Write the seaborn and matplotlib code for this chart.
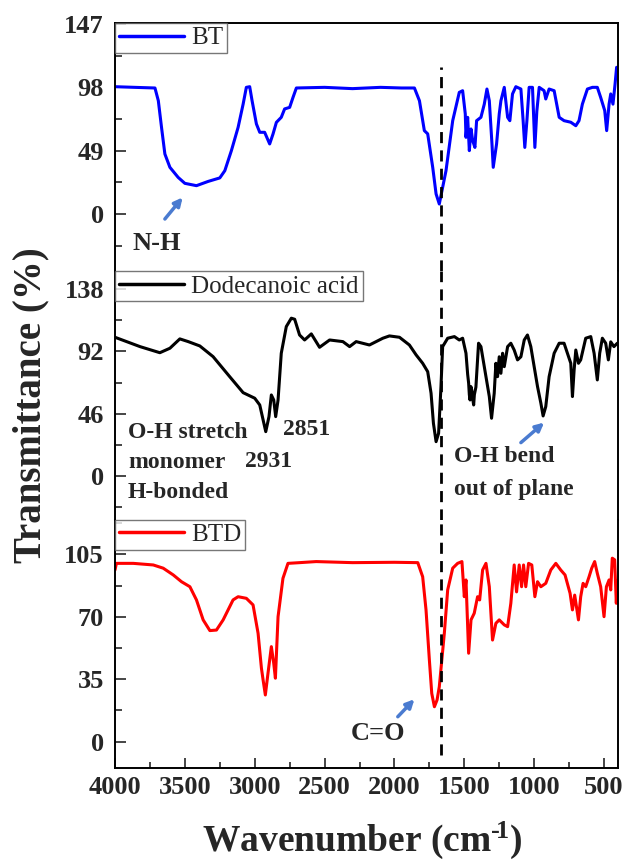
import numpy as np
import pandas as pd
import seaborn as sns
import matplotlib
matplotlib.use("Agg")
import matplotlib.pyplot as plt
from matplotlib.ticker import MultipleLocator

# ---------------- data ----------------
bt_wn = [4000, 3860, 3714, 3690, 3667, 3643, 3607, 3548, 3500, 3417,
         3333, 3250, 3214, 3167, 3119, 3083, 3060, 3036, 3019, 2988,
         2964, 2929, 2893, 2869, 2845, 2810, 2786, 2750, 2726, 2702,
         2500, 2300, 2100, 1950, 1857, 1821, 1786, 1762, 1726, 1702,
         1679, 1631, 1583, 1536, 1512, 1493, 1488, 1476, 1464, 1452,
         1440, 1424, 1412, 1381, 1357, 1338, 1321, 1302, 1293, 1269,
         1250, 1238, 1214, 1190, 1174, 1155, 1131, 1095, 1079, 1067,
         1052, 1036, 1012, 995, 981, 964, 929, 917, 893, 857,
         821, 786, 738, 702, 679, 655, 619, 583, 548, 524,
         495, 481, 464, 452, 436, 421, 410]
bt_t = [98.5, 98, 97.5, 87.7, 67, 46.4, 36.1, 28.3, 23.7, 21.9,
        25.2, 27.9, 33.5, 49, 67, 85, 98, 98.5, 87.7, 69.7,
        63.2, 63.2, 54.2, 61.9, 70.9, 74.8, 81.3, 82.5, 90.2, 97.5,
        98, 97, 98, 97.5, 97.5, 87.6, 64.5, 62, 36, 15.5,
        7.7, 33.5, 72.2, 94.1, 95.4, 77.4, 59.3, 74.8, 49, 65.8,
        56.7, 51.5, 72.2, 74.8, 85, 96.7, 87.6, 54.2, 36.1, 54.2,
        77.4, 87.6, 98, 74.8, 72.2, 92.9, 98.5, 96.7, 72.2, 51.5,
        72.2, 98, 98, 51.5, 79.5, 98, 95.4, 89, 96.7, 95.4,
        74.8, 72.2, 71, 68.3, 72.2, 85, 96.7, 98, 98, 90.2,
        80, 64.5, 85, 92.9, 85, 100.6, 113.5]

da_wn = [4000, 3821, 3679, 3607, 3536, 3476, 3393, 3298, 3179, 3083,
         3000, 2964, 2940, 2921, 2898, 2881, 2864, 2850, 2833, 2810,
         2774, 2738, 2714, 2679, 2643, 2595, 2536, 2464, 2369, 2321,
         2274, 2179, 2083, 2036, 1964, 1893, 1845, 1798, 1762, 1738,
         1721, 1702, 1684, 1667, 1655, 1619, 1571, 1536, 1512, 1488,
         1476, 1469, 1464, 1459, 1453, 1447, 1440, 1433, 1428, 1417,
         1398, 1381, 1345, 1321, 1305, 1286, 1274, 1262, 1250, 1238,
         1226, 1214, 1190, 1167, 1143, 1119, 1095, 1071, 1048, 1024,
         1000, 976, 952, 936, 917, 893, 857, 821, 786, 762,
         738, 726, 714, 702, 683, 667, 631, 595, 571, 548,
         531, 512, 488, 469, 452, 429, 405]
da_t = [102.4, 95.5, 91, 94.3, 101.2, 99.2, 96, 88.1, 73.3, 61.5,
        57.4, 52.4, 41.4, 32.7, 43.8, 59.8, 56.1, 43.8, 56.1, 90.6,
        110.3, 116.5, 115.7, 104.1, 100.4, 104.9, 95, 100.4, 99.2, 95.5,
        99.2, 96.7, 101.7, 103.4, 102.4, 96.7, 89.4, 83.2, 77, 61.1,
        38.9, 25.3, 31.5, 66, 95.5, 101.7, 102.9, 100.4, 101.7, 90.6,
        75, 68.5, 60, 56.1, 66, 63.5, 57, 52.4, 60, 65.6,
        98, 95.5, 73.3, 58.6, 42.6, 61, 83.2, 73.3, 88, 75.8,
        90.6, 80.7, 95.5, 98, 93, 85.7, 88, 100.4, 104.1, 95.5,
        80.7, 66, 53.7, 44.3, 51.2, 73.3, 90.6, 98, 98, 90.6,
        83.2, 58.6, 78.3, 93, 83.2, 85.7, 101.7, 102.9, 90.6, 70.9,
        90.6, 101.7, 98, 85.7, 99, 95.5, 98]

btd_wn = [4000, 3990, 3869, 3726, 3655, 3583, 3524, 3464, 3417, 3369,
          3321, 3274, 3226, 3155, 3119, 3060, 3012, 2976, 2952, 2940,
          2924, 2905, 2881, 2864, 2852, 2833, 2798, 2762, 2679, 2560,
          2300, 2000, 1833, 1798, 1774, 1750, 1733, 1714, 1695, 1679,
          1643, 1619, 1583, 1548, 1517, 1500, 1488, 1469, 1452, 1429,
          1405, 1390, 1369, 1345, 1321, 1298, 1274, 1250, 1214, 1190,
          1167, 1143, 1126, 1107, 1090, 1076, 1060, 1040, 1017, 995,
          976, 952, 917, 881, 845, 810, 779, 743, 726, 710,
          683, 667, 650, 631, 607, 588, 567, 548, 524, 500,
          483, 464, 452, 441, 424, 412, 405]
btd_t = [96.3, 100, 100, 99.1, 97.3, 93.5, 89.7, 86.9, 79.5, 68.3,
         62.3, 62.6, 68.3, 79.5, 81.3, 80.4, 76.7, 60.8, 41.2, 34.6,
         26.2, 38.4, 53.3, 44, 35.6, 70.1, 91.6, 100, 100.4, 101,
         100.4, 100.6, 100.4, 92.5, 73.9, 45.8, 27.1, 19.6, 23.4, 30.8,
         60.8, 85.1, 97.3, 100, 101, 81.3, 90.7, 49.6, 68.3, 72,
         81.3, 79.5, 96.3, 100, 86.9, 57, 66.4, 68.3, 65.5, 64.5,
         77.6, 99.1, 84, 99.1, 86.9, 99.1, 86.9, 100, 99.1, 81.3,
         89.7, 86.9, 88.8, 96.3, 100, 96.3, 93.5, 83.2, 73.9, 82.2,
         68.3, 81.3, 88.8, 86.9, 92.5, 97.3, 101, 94.4, 86.9, 70.1,
         86.9, 90.7, 85.1, 102.9, 102, 77.6, 90]

series_names = ["BT", "Dodecanoic acid", "BTD"]
series_colors = ["#0000FF", "#000000", "#FF0000"]
yticks_list = [[0, 49, 98, 147], [0, 46, 92, 138], [0, 35, 70, 105]]
ylims = [(-44.4, 147.8), (-32.3, 151.1), (-14.75, 124.5)]
xticks = [4000, 3500, 3000, 2500, 2000, 1500, 1000, 500]
dashed_wn = 1668

# ---------------- style ----------------
sns.set_style("white")
plt.rcParams["font.family"] = ["Liberation Serif", "DejaVu Serif"]
plt.rcParams["mathtext.fontset"] = "custom"
plt.rcParams["mathtext.rm"] = "Liberation Serif:bold"
plt.rcParams["mathtext.default"] = "rm"

fig = plt.figure(figsize=(6.3, 8.68), dpi=100)
gs = fig.add_gridspec(3, 1, left=115/630, right=618/630, top=1-23/868,
                      bottom=1-768/868, hspace=0)
axes = [fig.add_subplot(gs[i, 0]) for i in range(3)]

datasets = [(bt_wn, bt_t), (da_wn, da_t), (btd_wn, btd_t)]
for i, ax in enumerate(axes):
    wn, t = datasets[i]
    df = pd.DataFrame({"wn": wn, "T": t})
    sns.lineplot(data=df, x="wn", y="T", ax=ax, color=series_colors[i],
                 lw=2.2, estimator=None, label=series_names[i])
    ax.set_xlim(4000, 400)
    ax.set_ylim(*ylims[i])
    ax.set_yticks(yticks_list[i])
    step = yticks_list[i][1] / 2
    ax.yaxis.set_minor_locator(MultipleLocator(step))
    ax.set_xticks(xticks)
    ax.xaxis.set_minor_locator(MultipleLocator(250))
    ax.set_xlabel("")
    ax.set_ylabel("")
    for s in ax.spines.values():
        s.set_color("black")
        s.set_linewidth(1.4)
    ax.spines["top"].set_visible(i == 0)
    ax.spines["bottom"].set_visible(i == 2)
    ax.tick_params(axis="y", which="both", direction="in", left=True,
                   right=False, labelsize=19, pad=8, width=1.2)
    ax.tick_params(axis="y", which="major", length=8)
    ax.tick_params(axis="y", which="minor", length=5)
    ax.tick_params(axis="x", which="both", direction="in", top=False,
                   bottom=(i == 2), labelbottom=(i == 2), labelsize=19,
                   pad=6, width=1.2)
    ax.tick_params(axis="x", which="major", length=7)
    ax.tick_params(axis="x", which="minor", length=4)
    for lab in ax.get_yticklabels() + ax.get_xticklabels():
        lab.set_fontweight("bold")
    leg = ax.legend(loc="upper left", bbox_to_anchor=(0, 1.0),
                    borderaxespad=0.0, fancybox=False, frameon=True,
                    fontsize=18, handlelength=2.6, handletextpad=0.3,
                    borderpad=0.15)
    leg.get_frame().set_edgecolor("#555555")
    leg.get_frame().set_linewidth(1.0)
    for ln in leg.get_lines():
        ln.set_linewidth(2.5)

# dashed reference line
axes[0].axvline(dashed_wn, ymin=0, ymax=1-44/248.3, color="black", lw=2,
                ls=(0, (4, 2.6)))
axes[1].axvline(dashed_wn, ymin=0, ymax=1, color="black", lw=2,
                ls=(0, (4, 2.6)))
axes[2].axvline(dashed_wn, ymin=13/248.3, ymax=1, color="black", lw=2,
                ls=(0, (4, 2.6)))

arrow_color = "#4a7bd0"
aprops = dict(arrowstyle="-|>", color=arrow_color, lw=2.5, mutation_scale=12,
              shrinkA=0, shrinkB=0)

# annotations panel 1
axes[0].text(3700, -23, "N-H", fontsize=19, fontweight="bold",
             ha="center", va="center")
axes[0].annotate("", xy=(3516, 12.8), xytext=(3643, -3.9), arrowprops=aprops)

# annotations panel 2
ax = axes[1]
ax.text(3907, 31.8, "O-H stretch", fontsize=17, fontweight="bold", ha="left", va="center")
ax.text(3907, 9.6, "monomer", fontsize=17, fontweight="bold", ha="left", va="center")
ax.text(3907, -12.6, "H-bonded", fontsize=17, fontweight="bold", ha="left", va="center")
ax.text(3071, 10.3, "2931", fontsize=17, fontweight="bold", ha="left", va="center")
ax.text(2798, 34, "2851", fontsize=17, fontweight="bold", ha="left", va="center")
ax.text(1571, 14.3, "O-H bend", fontsize=17, fontweight="bold", ha="left", va="center")
ax.text(1571, -10.3, "out of plane", fontsize=17, fontweight="bold", ha="left", va="center")
ax.annotate("", xy=(929, 39.4), xytext=(1095, 24.6), arrowprops=aprops)

# annotations panel 3
axes[2].text(2121, 4.7, "C=O", fontsize=19, fontweight="bold",
             ha="center", va="center")
axes[2].annotate("", xy=(1857, 23.8), xytext=(1976, 14), arrowprops=aprops)

fig.text(0.049, 1-405/868, "Transmittance (%)", rotation=90, fontsize=28,
         fontweight="bold", ha="center", va="center")
fig.text(362/630, 1-840/868, "Wavenumber (cm$^{\u2010\\!1}$)", fontsize=27,
         fontweight="bold", ha="center", va="center")

fig.savefig("out.png", dpi=100)
